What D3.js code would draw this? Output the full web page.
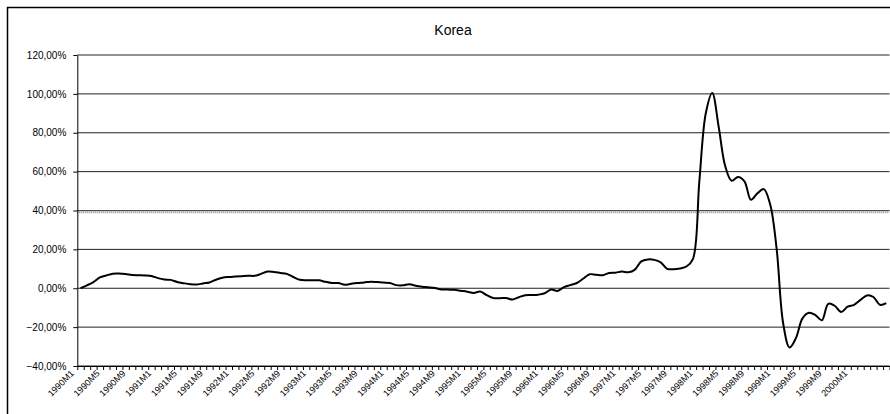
<!DOCTYPE html>
<html>
<head>
<meta charset="utf-8">
<script src="https://cdn.jsdelivr.net/npm/d3@7"></script>
<style>
  body { margin: 0; background: #fff; }
  svg { display: block; font-family: "Liberation Sans", Arial, sans-serif; }
  .domain { stroke: #000; }
</style>
</head>
<body>
<svg id="chart" width="890" height="414"></svg>
<script>
// Monthly series, 1990M1 .. 2000M6 (percent)
var startYear = 1990;
var monthCount = 126;
var values = [
   0.0,  1.5,  3.2,  5.6,  6.6,  7.5,  7.6,  7.3,  6.8,  6.7,
   6.6,  6.3,  5.2,  4.5,  4.3,  3.2,  2.6,  2.1,  1.9,  2.5,
   3.0,  4.4,  5.4,  5.8,  6.0,  6.2,  6.4,  6.4,  7.4,  8.6,
   8.4,  7.9,  7.4,  5.8,  4.4,  4.1,  4.1,  4.1,  3.3,  2.7,
   2.7,  1.8,  2.3,  2.7,  3.0,  3.4,  3.2,  2.9,  2.7,  1.6,
   1.5,  2.1,  1.3,  0.8,  0.5,  0.1, -0.6, -0.7, -0.8, -1.3,
  -1.8, -2.4, -1.7, -3.5, -5.0, -5.1, -5.0, -5.8, -4.6, -3.6,
  -3.5, -3.3, -2.6, -0.7, -1.4,  0.6,  1.6,  2.7,  5.0,  7.2,
   6.9,  6.7,  7.8,  8.0,  8.6,  8.2,  9.6, 13.8, 14.8, 14.6,
  13.3, 10.0,  9.8, 10.2, 11.2, 15.0, 55.0, 90.0, 100.5, 83.0,
  63.0, 55.3, 57.2, 55.0, 45.5, 48.8, 51.0, 43.0, 20.0, -18.0,
 -30.5, -25.5, -15.5, -12.6, -13.8, -16.5, -8.0, -9.0, -12.2, -9.5,
  -8.5, -6.0, -3.7, -4.5, -8.5, -7.6
];
var yTicks = [-40, -20, 0, 20, 40, 60, 80, 100, 120];
var thresholdValue = 39.3;
var chartTitle = "Korea";

var months = d3.range(monthCount).map(function(i) {
    return (startYear + Math.floor(i / 12)) + "M" + (i % 12 + 1);
});
// every 4th month gets a label, the reference stops at 2000M1
var labelMonths = months.filter(function(d, i) { return i % 4 === 0 && i <= 120; });

var svg = d3.select("#chart");
var plotLeft = 77.3, plotRight = 889.5, plotTop = 55, plotBottom = 366;

// outer frame (runs off the right and bottom of the picture)
svg.append("rect")
    .attr("x", 7.5).attr("y", 7.5)
    .attr("width", 900).attr("height", 420)
    .attr("fill", "none").attr("stroke", "#000").attr("stroke-width", 1.5);

svg.append("text")
    .attr("x", 453).attr("y", 35)
    .attr("text-anchor", "middle")
    .attr("font-size", 14)
    .text(chartTitle);

var xScale = d3.scaleBand().domain(months).range([plotLeft, plotRight]).padding(0);
var xEdge = d3.scaleLinear().domain([0, monthCount]).range([plotLeft, plotRight]);
var yScale = d3.scaleLinear().domain([-40, 120]).range([plotBottom, plotTop]);

// gridlines
svg.append("g").selectAll("line")
    .data(yTicks)
    .enter().append("line")
    .attr("x1", plotLeft).attr("x2", plotRight)
    .attr("y1", function(d) { return yScale(d); })
    .attr("y2", function(d) { return yScale(d); })
    .attr("stroke", "#222").attr("stroke-width", 1);

// dotted threshold line
svg.append("line")
    .attr("x1", plotLeft).attr("x2", plotRight)
    .attr("y1", yScale(thresholdValue)).attr("y2", yScale(thresholdValue))
    .attr("stroke", "#8a8a8a").attr("stroke-width", 3)
    .attr("stroke-dasharray", "1,1");

// y axis
var fmt = d3.format(".2f");
var yAxis = d3.axisLeft(yScale)
    .tickValues(yTicks)
    .tickSize(4)
    .tickSizeOuter(0)
    .tickPadding(7)
    .tickFormat(function(d) { return fmt(d).replace(".", ",") + "%"; });
var yG = svg.append("g").attr("transform", "translate(" + plotLeft + ",0)").call(yAxis);
yG.selectAll("text").attr("font-size", 10).attr("fill", "#000").attr("font-family", "Liberation Sans, Arial");

// x axis: tick marks at month boundaries
var xAxis = d3.axisBottom(xEdge)
    .tickValues(d3.range(monthCount + 1))
    .tickSize(4)
    .tickSizeOuter(0)
    .tickFormat("");
svg.append("g").attr("transform", "translate(0," + plotBottom + ")").call(xAxis);

// x labels every 4 months
var xLabels = d3.axisBottom(xScale)
    .tickValues(labelMonths)
    .tickSize(0);
var xl = svg.append("g").attr("transform", "translate(0," + plotBottom + ")").call(xLabels);
xl.select(".domain").remove();
xl.selectAll("text")
    .attr("font-size", 9)
    .attr("fill", "#000")
    .attr("font-family", "Liberation Sans, Arial")
    .style("text-anchor", "end")
    .attr("x", 0).attr("y", 0).attr("dy", 0)
    .attr("transform", "translate(-6,8) rotate(-45)");

// series line
var line = d3.line()
    .x(function(d, i) { return xScale(months[i]) + xScale.bandwidth() / 2; })
    .y(function(d) { return yScale(d); })
    .curve(d3.curveCatmullRom);

svg.append("path")
    .datum(values)
    .attr("d", line)
    .attr("fill", "none")
    .attr("stroke", "#000")
    .attr("stroke-width", 2);
</script>
</body>
</html>
